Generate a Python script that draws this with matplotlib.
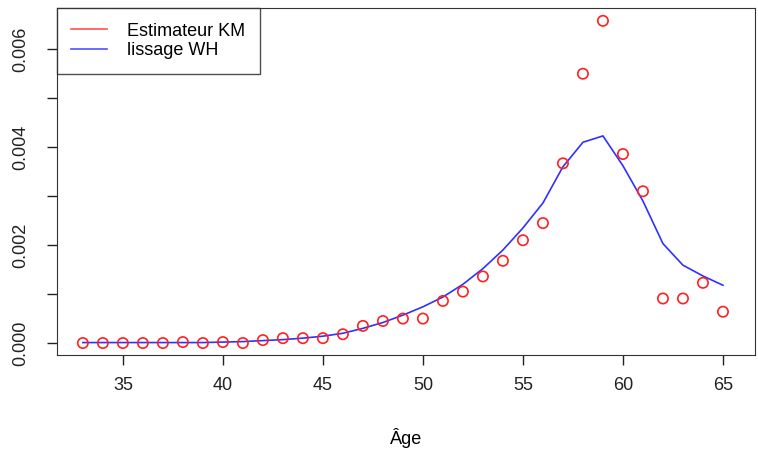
import matplotlib.pyplot as plt

plt.rcParams['font.family'] = ['Liberation Sans', 'DejaVu Sans']

# Données
ages = list(range(33, 66))
km = [0.0, 0.0, 0.0, 0.0, 0.0, 0.00002, 0.0, 0.00002, 0.0, 0.00006,
      0.0001, 0.0001, 0.0001, 0.00018, 0.00035, 0.00045, 0.0005, 0.0005,
      0.00086, 0.00105, 0.00136, 0.00168, 0.0021, 0.00245, 0.00367,
      0.0055, 0.00658, 0.00386, 0.0031, 0.00091, 0.00091, 0.00123, 0.00064]
wh = [0.00001, 0.00001, 0.00001, 0.00001, 0.00001, 0.00001, 0.00001,
      0.00002, 0.00003, 0.00005, 0.00007, 0.0001, 0.00014, 0.0002, 0.0003,
      0.00042, 0.00057, 0.00074, 0.00094, 0.0012, 0.00152, 0.0019, 0.00235,
      0.00286, 0.0036, 0.0041, 0.00423, 0.00362, 0.0029, 0.00203, 0.00159,
      0.00137, 0.00118]

fig = plt.figure(figsize=(7.58, 4.5), dpi=100)
ax = fig.add_axes([0.075, 0.211, 0.921, 0.771])

ax.scatter(ages, km, s=55, facecolors='none', edgecolors='#ff2020', linewidths=1.2, zorder=3)
ax.plot(ages, wh, color='#3030ff', lw=1.2, zorder=2)

ax.set_xlim(31.7, 66.6)
ax.set_ylim(-0.000245, 0.00684)
ax.set_xticks([35, 40, 45, 50, 55, 60, 65])
ax.set_yticks([0, 0.001, 0.002, 0.003, 0.004, 0.005, 0.006])
ax.set_yticklabels(['0.000', '', '0.002', '', '0.004', '', '0.006'], rotation=90, va='center')
ax.tick_params(labelsize=13, length=7, width=1, direction='out', colors='#222222')
ax.tick_params(axis='x', pad=9)
ax.tick_params(axis='y', pad=13)
for s in ax.spines.values():
    s.set_color('#333333')
ax.set_xlabel('Âge', fontsize=13, labelpad=24)

h1, = ax.plot([], [], color='#ff5050', lw=1.2, label='Estimateur KM')
h2, = ax.plot([], [], color='#5050ff', lw=1.2, label='lissage WH')
leg = ax.legend(handles=[h1, h2], loc='upper left', fontsize=13, frameon=True,
                fancybox=False, borderaxespad=0, handlelength=2.0,
                borderpad=0.8, labelspacing=0.15, handletextpad=1.1)
leg.get_frame().set_edgecolor('#222222')
leg.get_frame().set_linewidth(1)

fig.savefig('out.png', dpi=100)
